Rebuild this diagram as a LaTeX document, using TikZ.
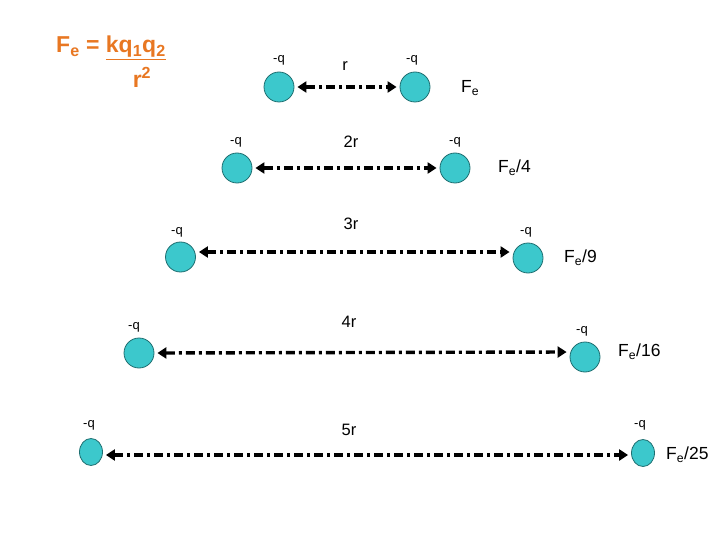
\documentclass[tikz,border=0pt]{standalone}
\usepackage{fontspec}
\setmainfont{Liberation Sans}
\usetikzlibrary{arrows.meta,shapes.geometric}
\definecolor{ballfill}{HTML}{3CC8CC}
\definecolor{balledge}{HTML}{1E6E70}
\definecolor{formula}{HTML}{E87722}
\tikzset{
  ball/.style={ellipse, minimum width=30pt, minimum height=30pt, inner sep=0pt, fill=ballfill, draw=balledge, line width=0.8pt},
  thinball/.style={ball, minimum width=23pt, minimum height=27pt},
  chg/.style={font=\fontsize{13}{15}\selectfont, inner sep=0pt},
  dist/.style={font=\fontsize{16.5}{19}\selectfont, inner sep=0pt},
  force/.style={font=\fontsize{17.5}{20}\selectfont, inner sep=0pt, anchor=west},
  link/.style={line width=3.4pt, dash pattern=on 9pt off 4pt on 3pt off 4pt, {Triangle[length=9pt,width=11pt]}-{Triangle[length=9pt,width=11pt]}, shorten <=3pt, shorten >=3pt}
}
\begin{document}
\begin{tikzpicture}[x=1pt,y=-1pt]
\useasboundingbox (0,0) rectangle (720,540);
% formula
\node[anchor=west, text=formula, font=\fontsize{23}{25}\selectfont\bfseries, inner sep=0pt] (fm) at (56,48) {F\textsubscript{e} = \underline{kq\textsubscript{1}q\textsubscript{2}}};
\node[text=formula, font=\fontsize{23}{25}\selectfont\bfseries, inner sep=0pt] (fr) at (142,77) {r\textsuperscript{2}};
% row 1
\node[ball] (a1) at (279,87) {};
\node[ball] (b1) at (415,87) {};
\node[chg] (qa1) at (279,60) {-q};
\node[chg] (qb1) at (412,60) {-q};
\node[dist] (d1) at (345,66) {r};
\node[force] (f1) at (461,88) {F\textsubscript{e}};
\draw[link] (a1) -- (b1);
% row 2
\node[ball] (a2) at (237,168) {};
\node[ball] (b2) at (455,168) {};
\node[chg] (qa2) at (236,142) {-q};
\node[chg] (qb2) at (455,142) {-q};
\node[dist] (d2) at (351,142) {2r};
\node[force] (f2) at (498,168) {F\textsubscript{e}/4};
\draw[link] (a2) -- (b2);
% row 3
\node[ball] (a3) at (180.5,257) {};
\node[ball] (b3) at (528,258) {};
\node[chg] (qa3) at (177,232) {-q};
\node[chg] (qb3) at (526,232) {-q};
\node[dist] (d3) at (351,224) {3r};
\node[force] (f3) at (564,258) {F\textsubscript{e}/9};
\draw[link] ([yshift=5pt]a3.east) -- ([yshift=6pt]b3.west);
% row 4
\node[ball] (a4) at (139,353) {};
\node[ball] (b4) at (585,357) {};
\node[chg] (qa4) at (134,327) {-q};
\node[chg] (qb4) at (582,331) {-q};
\node[dist] (d4) at (349,322) {4r};
\node[force] (f4) at (618,352) {F\textsubscript{e}/16};
\draw[link] (a4.east) -- ([yshift=5pt]b4.west);
% row 5
\node[thinball] (a5) at (91,452) {};
\node[thinball] (b5) at (643,453) {};
\node[chg] (qa5) at (89,425) {-q};
\node[chg] (qb5) at (640,425) {-q};
\node[dist] (d5) at (349,430) {5r};
\node[force] (f5) at (666,455) {F\textsubscript{e}/25};
\draw[link] ([yshift=-3pt]a5.east) -- ([yshift=-2pt]b5.west);
\end{tikzpicture}
\end{document}
